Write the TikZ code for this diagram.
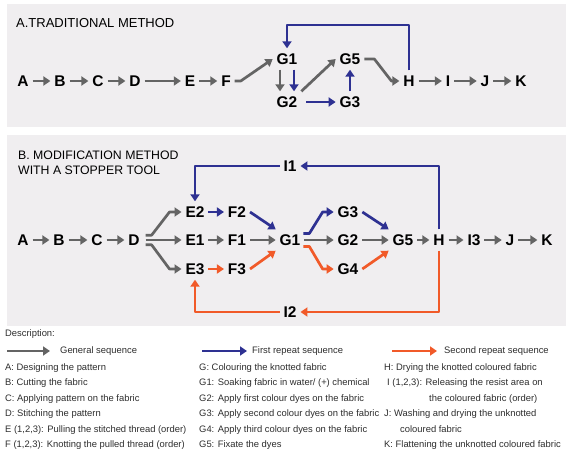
\documentclass[tikz,border=0pt]{standalone}
\usepackage{fontspec}
\setmainfont{Liberation Sans}
\usepackage{tikz}
\usetikzlibrary{arrows.meta,calc}
\definecolor{panelbg}{RGB}{240,238,240}
\definecolor{seqgray}{RGB}{100,100,100}
\definecolor{seqblue}{RGB}{46,49,146}
\definecolor{seqorange}{RGB}{241,90,41}
\definecolor{desctext}{RGB}{45,45,45}

\begin{document}
\begin{tikzpicture}[x=1pt, y=-1pt,
    stagenode/.style={font=\bfseries\fontsize{15.5}{15.5}\selectfont, inner xsep=3.8pt, inner ysep=5pt, text height=11pt, text depth=0pt},
    gen/.style={draw=seqgray, line width=2.7pt, line join=round, -{Triangle[length=7pt,width=9pt]}},
    rep1/.style={gen, draw=seqblue},
    rep2/.style={gen, draw=seqorange},
    desc/.style={anchor=west, inner sep=0pt, text=desctext, font=\fontsize{9.4}{11}\selectfont},
    paneltitle/.style={anchor=west, inner sep=0pt, align=left}]

    \useasboundingbox (0,0) rectangle (566,458);

    % Panel A: traditional method
    \fill[panelbg] (7,4) rectangle (566,127);
    \node[paneltitle, font=\fontsize{13}{15}\selectfont] (titleA) at (16,23) {A.TRADITIONAL METHOD};

    \node[stagenode] (tA) at (23,81) {A};
    \node[stagenode] (tB) at (60,81) {B};
    \node[stagenode] (tC) at (98,81) {C};
    \node[stagenode] (tD) at (135,81) {D};
    \node[stagenode] (tE) at (190,81) {E};
    \node[stagenode] (tF) at (226,81) {F};
    \node[stagenode] (tG1) at (287,59) {G1};
    \node[stagenode] (tG2) at (287,102) {G2};
    \node[stagenode] (tG5) at (350,59) {G5};
    \node[stagenode] (tG3) at (350,102) {G3};
    \node[stagenode] (tH) at (409,81) {H};
    \node[stagenode] (tI) at (448,81) {I};
    \node[stagenode] (tJ) at (485,81) {J};
    \node[stagenode] (tK) at (521,81) {K};
    \coordinate (topA) at (0,25);

    \draw[gen] (tA) -- (tB);
    \draw[gen] (tB) -- (tC);
    \draw[gen] (tC) -- (tD);
    \draw[gen] (tD) -- (tE);
    \draw[gen] (tE) -- (tF);
    \draw[gen] (tF.east) -- ++(6,0) -- (tG1.west);
    \draw[gen] ($(tG1.south)+(-7,0)$) -- ($(tG2.north)+(-7,0)$);
    \draw[rep1] ($(tG1.south)+(7,0)$) -- ($(tG2.north)+(7,0)$);
    \draw[gen] (tG2.north east) -- (tG5.west);
    \draw[rep1, shorten <=5pt] (tG2.east) -- (tG3.west);
    \draw[rep1] (tG3.north) -- (tG5.south);
    \draw[gen] (tG5.east) -- ++(10,0) -- ($(tH.west)+(-8,0)$) -- (tH.west);
    \draw[gen] (tH) -- (tI);
    \draw[gen] (tI) -- (tJ);
    \draw[gen] (tJ) -- (tK);
    % first repeat loop
    \draw[rep1] (tH.north) |- (topA -| tG1) -- (tG1.north);

    % Panel B: modification with a stopper tool
    \fill[panelbg] (7,135) rectangle (566,326);
    \node[paneltitle, font=\fontsize{12.3}{15}\selectfont] (titleB) at (18,162.5) {B. MODIFICATION METHOD\\WITH A STOPPER TOOL};

    \node[stagenode] (mA) at (23,240) {A};
    \node[stagenode] (mB) at (59,240) {B};
    \node[stagenode] (mC) at (97,240) {C};
    \node[stagenode] (mD) at (134,240) {D};
    \node[stagenode] (mE2) at (195,212) {E2};
    \node[stagenode] (mF2) at (237,212) {F2};
    \node[stagenode] (mE1) at (195,240) {E1};
    \node[stagenode] (mF1) at (237,240) {F1};
    \node[stagenode] (mE3) at (195,269) {E3};
    \node[stagenode] (mF3) at (237,269) {F3};
    \node[stagenode] (mG1) at (290,240) {G1};
    \node[stagenode] (mG3) at (348,212) {G3};
    \node[stagenode] (mG2) at (348,240) {G2};
    \node[stagenode] (mG4) at (348,269) {G4};
    \node[stagenode] (mG5) at (403,240) {G5};
    \node[stagenode] (mH) at (439,240) {H};
    \node[stagenode] (mI3) at (474,240) {I3};
    \node[stagenode] (mJ) at (510,240) {J};
    \node[stagenode] (mK) at (547,240) {K};
    \node[stagenode] (mI1) at (290,166) {I1};
    \node[stagenode] (mI2) at (290,312) {I2};

    \draw[gen] (mA) -- (mB);
    \draw[gen] (mB) -- (mC);
    \draw[gen] (mC) -- (mD);
    % fork after stitching
    \draw[gen] ($(mD.east)+(2,-4.8)$) -- ++(6,0) -- ($(mE2.west)+(-12,0)$) -- (mE2.west);
    \draw[gen] ($(mD.east)+(2,0)$) -- (mE1.west);
    \draw[gen] ($(mD.east)+(2,4.8)$) -- ++(6,0) -- ($(mE3.west)+(-12,0)$) -- (mE3.west);
    \draw[rep1] (mE2) -- (mF2);
    \draw[gen] (mE1) -- (mF1);
    \draw[rep2] (mE3) -- (mF3);
    \draw[rep1] (mF2.east) -- (mG1.north west);
    \draw[gen] (mF1) -- (mG1);
    \draw[rep2] (mF3.east) -- (mG1.south west);
    % fork after soaking
    \draw[rep1] ($(mG1.east)+(-1,-6.5)$) -- ++(6,0) -- ($(mG3.west)+(-11,0)$) -- (mG3.west);
    \draw[gen] (mG1) -- (mG2);
    \draw[rep2] ($(mG1.east)+(-1,6.5)$) -- ++(6,0) -- ($(mG4.west)+(-11,0)$) -- (mG4.west);
    \draw[rep1] (mG3.east) -- (mG5.north west);
    \draw[gen] (mG2) -- (mG5);
    \draw[rep2] (mG4.east) -- (mG5.south west);
    \draw[gen] (mG5) -- (mH);
    \draw[gen] (mH) -- (mI3);
    \draw[gen] (mI3) -- (mJ);
    \draw[gen] (mJ) -- (mK);
    % repeat loops
    \draw[rep1] (mH.north) |- (mI1.east);
    \draw[rep1] (mI1.west) -| (mE2.north);
    \draw[rep2] (mH.south) |- (mI2.east);
    \draw[rep2] (mI2.west) -| (mE3.south);

    % Legend
    \node[desc] (descHead) at (5,334) {Description:};
    \coordinate (lgGenA) at (7,351);
    \coordinate (lgGenB) at (50,351);
    \coordinate (lgFirstA) at (202,351);
    \coordinate (lgFirstB) at (247,351);
    \coordinate (lgSecA) at (392,351);
    \coordinate (lgSecB) at (437,351);
    \draw[gen] (lgGenA) -- (lgGenB);
    \draw[rep1] (lgFirstA) -- (lgFirstB);
    \draw[rep2] (lgSecA) -- (lgSecB);
    \node[desc] (lgGen) at (60,351) {General sequence};
    \node[desc] (lgFirst) at (252,351) {First repeat sequence};
    \node[desc] (lgSec) at (444,351) {Second repeat sequence};

    % Description lines
    \node[desc] (dA) at (5,368) {A: Designing the pattern};
    \node[desc] (dB) at (5,383.4) {B: Cutting the fabric};
    \node[desc] (dC) at (5,398.8) {C: Applying pattern on the fabric};
    \node[desc] (dD) at (5,414.2) {D: Stitching the pattern};
    \node[desc] (dE) at (5,429.6) {E (1,2,3): Pulling the stitched thread (order)};
    \node[desc] (dF) at (5,445) {F (1,2,3): Knotting the pulled thread (order)};

    \node[desc] (dG) at (199,368) {G: Colouring the knotted fabric};
    \node[desc] (dG1) at (199,383.4) {G1: Soaking fabric in water/ (+) chemical};
    \node[desc] (dG2) at (199,398.8) {G2: Apply first colour dyes on the fabric};
    \node[desc] (dG3) at (199,414.2) {G3: Apply second colour dyes on the fabric};
    \node[desc] (dG4) at (199,429.6) {G4: Apply third colour dyes on the fabric};
    \node[desc] (dG5) at (199,445) {G5: Fixate the dyes};

    \node[desc] (dH) at (384,368) {H: Drying the knotted coloured fabric};
    \node[desc] (dI) at (387,383.4) {I (1,2,3): Releasing the resist area on};
    \node[desc] (dIb) at (429,398.8) {the coloured fabric (order)};
    \node[desc] (dJ) at (384,414.2) {J: Washing and drying the unknotted};
    \node[desc] (dJb) at (400,429.6) {coloured fabric};
    \node[desc] (dK) at (384,445) {K: Flattening the unknotted coloured fabric};
\end{tikzpicture}
\end{document}
